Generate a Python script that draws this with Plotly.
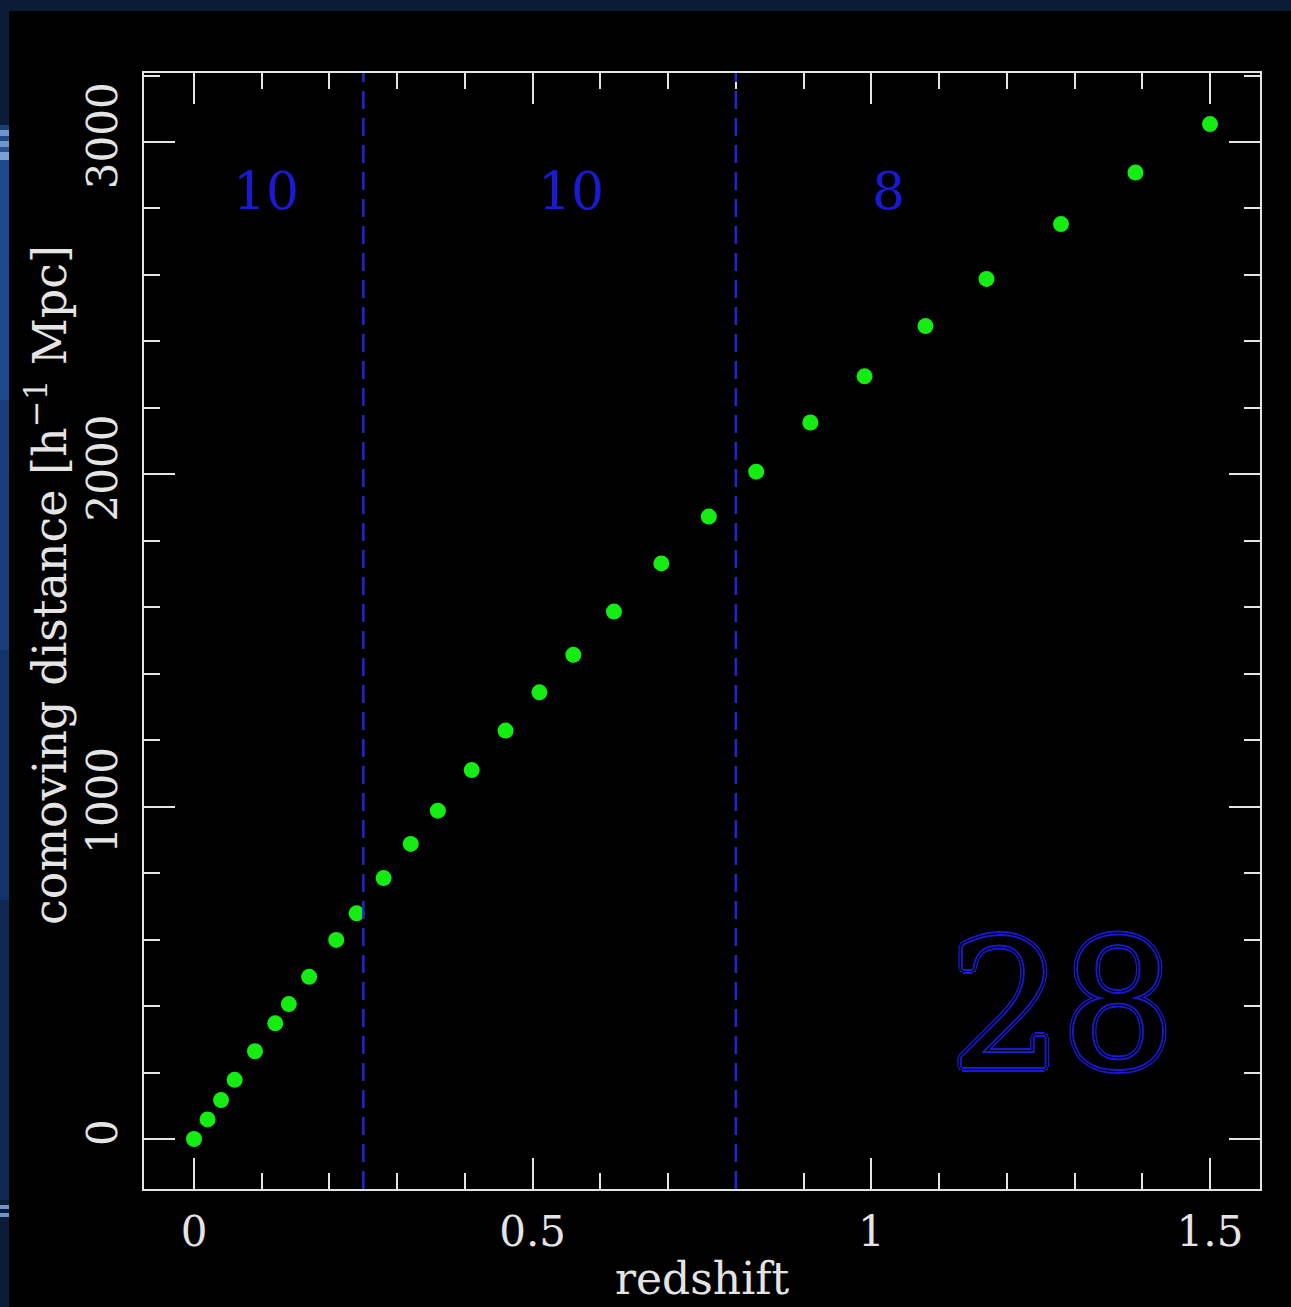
import plotly.graph_objects as go

# ---- data ----
redshift = [0.00, 0.02, 0.04, 0.06, 0.09, 0.12, 0.14, 0.17, 0.21, 0.24,
            0.28, 0.32, 0.36, 0.41, 0.46, 0.51, 0.56, 0.62, 0.69, 0.76,
            0.83, 0.91, 0.99, 1.08, 1.17, 1.28, 1.39, 1.50]
distance = [0, 59, 117, 178, 264, 348, 406, 488, 599, 679,
            785, 888, 988, 1110, 1229, 1344, 1457, 1587, 1732, 1873,
            2008, 2156, 2295, 2446, 2588, 2753, 2908, 3054]
bin_edges = [0.25, 0.8]
bin_counts = ["10", "10", "8"]
bin_label_x = [0.106, 0.557, 1.026]
total_label = "28"
x_ticks = [0, 0.5, 1, 1.5]
x_ticklabels = ["0", "0.5", "1", "1.5"]
y_ticks = [0, 1000, 2000, 3000]
y_ticklabels = ["0", "1000", "2000", "3000"]

W, H = 1291, 1307
L, R, T, B = 144, 31, 73, 118
PW, PH = W - L - R, H - T - B

FONT = "DejaVu Serif"
AXC = "#e4e4e4"
BLUE = "#1a1ad2"

fig = go.Figure()
fig.add_trace(go.Scatter(
    x=redshift, y=distance, mode="markers",
    marker=dict(color="#14ec14", size=16, line=dict(width=0)),
    showlegend=False, hoverinfo="skip"))

shapes = []
def px2paper_x(px):
    return (px - L) / PW
def px2paper_y(py):
    return (H - B - py) / PH

# black slide panel over the navy frame
shapes.append(dict(type="rect", xref="paper", yref="paper", layer="below",
                   x0=px2paper_x(9), x1=px2paper_x(W + 5),
                   y0=px2paper_y(H + 5), y1=px2paper_y(11),
                   fillcolor="black", line=dict(width=0)))
# left strip (slide decoration)
strip = [(11, 125, "#0c1c38"), (125, 130, "#1c3f78"), (130, 136, "#6f96cc"),
         (136, 141, "#1e4684"), (141, 147, "#6f96cc"), (147, 152, "#274f90"),
         (152, 160, "#7aa0d4"), (160, 400, "#1d4a8e"), (400, 650, "#183f7c"),
         (650, 900, "#13336a"), (900, 1200, "#0f2952"), (1205, 1209, "#6f96cc"),
         (1213, 1217, "#6f96cc"), (1220, 1307, "#0c1c38")]
for y0, y1, c in strip:
    shapes.append(dict(type="rect", xref="paper", yref="paper", layer="below",
                       x0=px2paper_x(0), x1=px2paper_x(9),
                       y0=px2paper_y(y1), y1=px2paper_y(y0),
                       fillcolor=c, line=dict(width=0)))
# dashed bin boundaries
for xe in bin_edges:
    shapes.append(dict(type="line", xref="x", yref="paper", x0=xe, x1=xe,
                       y0=0, y1=1, layer="above",
                       line=dict(color="#2424d4", width=2.5, dash="18px,9px")))

annotations = []
for lab, xl in zip(bin_counts, bin_label_x):
    annotations.append(dict(x=xl, y=2853, xref="x", yref="y", text=lab,
                            showarrow=False, xanchor="center", yanchor="middle",
                            font=dict(family=FONT, size=52, color=BLUE)))
# big outlined total (double outline via text shadows)
ring = []
dirs = [(1, 0), (-1, 0), (0, 1), (0, -1), (0.71, 0.71), (-0.71, 0.71), (0.71, -0.71), (-0.71, -0.71)]
for r, c in [(0.9, BLUE), (1.7, BLUE), (2.6, "black"), (3.2, "black"), (3.9, BLUE), (4.6, BLUE)]:
    for dx, dy in dirs:
        ring.append(f"{dx*r:.2f}px {dy*r:.2f}px 0 {c}")
annotations.append(dict(x=px2paper_x(1062), y=px2paper_y(1006), xref="paper", yref="paper",
                        text=total_label, showarrow=False, xanchor="center", yanchor="middle",
                        font=dict(family=FONT, size=176, color="black", shadow=", ".join(ring))))
# axis titles
annotations.append(dict(x=px2paper_x(702), y=px2paper_y(1306), xref="paper", yref="paper",
                        text="redshift", showarrow=False, xanchor="center", yanchor="bottom",
                        font=dict(family=FONT, size=44, color=AXC)))
annotations.append(dict(x=px2paper_x(47), y=px2paper_y(585), xref="paper", yref="paper",
                        text="comoving distance [h<sup>−1</sup> Mpc]", textangle=-90,
                        showarrow=False, xanchor="center", yanchor="middle",
                        font=dict(family=FONT, size=46, color=AXC)))

x_per_px = 1.5 / (1210 - 194)
y_per_px = 3000 / (1139 - 142)
fig.update_layout(
    width=W, height=H,
    margin=dict(l=L, r=R, t=T, b=B, pad=0),
    paper_bgcolor="#0c1c38", plot_bgcolor="black",
    shapes=shapes, annotations=annotations,
    xaxis=dict(range=[(L - 194) * x_per_px, (W - R - 194) * x_per_px],
               tickmode="array", tickvals=x_ticks, ticktext=x_ticklabels,
               ticks="inside", ticklen=31, tickwidth=2, tickcolor=AXC,
               minor=dict(dtick=0.1, tick0=0, ticks="inside", ticklen=16, tickwidth=2,
                          tickcolor=AXC, showgrid=False),
               showline=True, linecolor=AXC, linewidth=2, mirror="allticks",
               showgrid=False, zeroline=False, ticklabelstandoff=5,
               tickfont=dict(family=FONT, size=42, color=AXC)),
    yaxis=dict(range=[(1139 - (H - B)) * y_per_px, (1139 - T) * y_per_px],
               tickmode="array", tickvals=y_ticks, ticktext=y_ticklabels,
               ticks="inside", ticklen=31, tickwidth=2, tickcolor=AXC,
               minor=dict(dtick=200, tick0=0, ticks="inside", ticklen=16, tickwidth=2,
                          tickcolor=AXC, showgrid=False),
               showline=True, linecolor=AXC, linewidth=2, mirror="allticks",
               showgrid=False, zeroline=False, tickangle=-90, ticklabelstandoff=8,
               tickfont=dict(family=FONT, size=42, color=AXC)),
)
fig.write_html("out.html")
